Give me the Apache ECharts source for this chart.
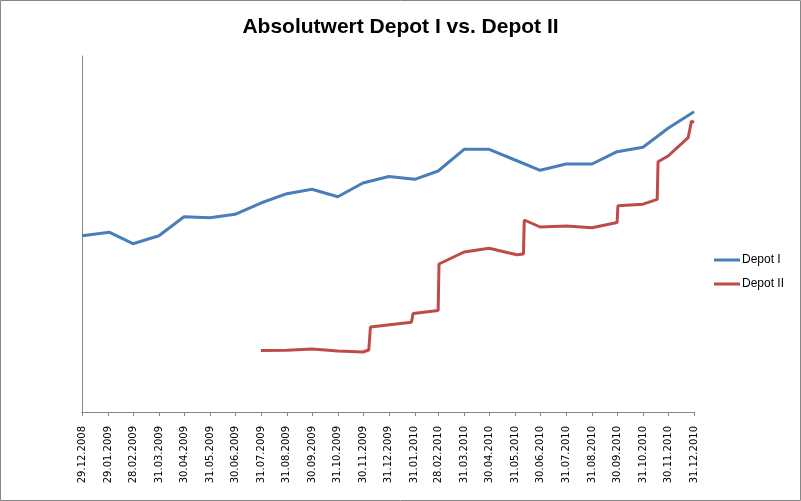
<!DOCTYPE html>
<html>
<head>
<meta charset="utf-8">
<script src="https://cdn.jsdelivr.net/npm/echarts@6/dist/echarts.min.js"></script>
<style>
html,body{margin:0;padding:0;background:#fff;}
#main{width:801px;height:501px;}
</style>
</head>
<body>
<div id="main"></div>
<script>
// Tick labels (dates on the x axis)
const tickLabels = ['29.12.2008','29.01.2009','28.02.2009','31.03.2009','30.04.2009','31.05.2009','30.06.2009','31.07.2009','31.08.2009','30.09.2009','31.10.2009','30.11.2009','31.12.2009','31.01.2010','28.02.2010','31.03.2010','30.04.2010','31.05.2010','30.06.2010','31.07.2010','31.08.2010','30.09.2010','31.10.2010','30.11.2010','31.12.2010'];

// Depot I
const depot1Dates = ['29.12.2008','31.01.2009','28.02.2009','31.03.2009','30.04.2009','31.05.2009','30.06.2009','31.07.2009','31.08.2009','30.09.2009','31.10.2009','30.11.2009','31.12.2009','31.01.2010','28.02.2010','31.03.2010','30.04.2010','31.05.2010','30.06.2010','31.07.2010','31.08.2010','30.09.2010','31.10.2010','30.11.2010','31.12.2010'];
const depot1Values = [176.3,179.7,168.3,176.3,195.3,194.3,197.7,209,218.3,222.7,215.3,229,235.5,232.7,241,262.7,262.7,252,241.7,248,248,260.3,264.7,283.7,300.3];

// Depot II
const depot2Dates = ['31.07.2009','31.08.2009','30.09.2009','31.10.2009','30.11.2009','07.12.2009','09.12.2009','27.01.2010','29.01.2010','28.02.2010','01.03.2010','31.03.2010','30.04.2010','02.06.2010','10.06.2010','11.06.2010','30.06.2010','31.07.2010','31.08.2010','30.09.2010','01.10.2010','31.10.2010','17.11.2010','18.11.2010','30.11.2010','24.12.2010','28.12.2010','31.12.2010'];
const depot2Values = [61.5,61.7,63,61,60,62,85,89.7,98.5,101.5,148,160,163.7,157.3,158,192,185,186,184.3,189.5,206.3,207.8,212.7,250.3,256,274.3,291,289.5];

function toDay(s){
  const p = s.split('.');
  return Date.UTC(+p[2], +p[1]-1, +p[0]) / 86400000;
}
const base = toDay(tickLabels[0]);
const dayOf = s => toDay(s) - base;
const tickDays = tickLabels.map(dayOf);
const labelByDay = {};
tickLabels.forEach((t,i)=>{ labelByDay[tickDays[i]] = t; });

const chart = echarts.init(document.getElementById('main'), null, {renderer:'canvas'});
chart.setOption({
  animation:false,
  backgroundColor:'#fff',
  title:{
    text:'Absolutwert Depot I vs. Depot II',
    left:'center', top:12,
    textStyle:{fontFamily:'Liberation Sans', fontWeight:'bold', fontSize:21, color:'#000'}
  },
  legend:{
    orient:'vertical', left:714, top:254, padding:0, itemWidth:26, itemHeight:3, itemGap:12,
    icon:'rect',
    textStyle:{fontFamily:'Liberation Sans', fontSize:12, color:'#000', padding:[0,0,0,-3]},
    data:['Depot I','Depot II']
  },
  graphic:[{type:'rect', shape:{x:0.5,y:0.5,width:800,height:500}, style:{fill:'none', stroke:'#868686', lineWidth:1}, silent:true}],
  grid:{left:82, right:107, top:56, bottom:89, containLabel:false},
  xAxis:{
    type:'value', min:tickDays[0], max:tickDays[tickDays.length-1],
    splitLine:{show:false},
    axisLine:{lineStyle:{color:'#868686', width:1}},
    axisTick:{show:true, length:4, customValues:tickDays, lineStyle:{color:'#868686'}},
    axisLabel:{customValues:tickDays, rotate:90, margin:14, fontFamily:'DejaVu Sans', fontSize:10, color:'#000',
      formatter:v=>labelByDay[v] || ''}
  },
  yAxis:{
    type:'value', min:0, max:356,
    splitLine:{show:false},
    axisLine:{show:true, lineStyle:{color:'#868686', width:1}},
    axisTick:{show:false},
    axisLabel:{show:false}
  },
  series:[
    {name:'Depot I', type:'line', symbol:'none', color:'#4A7EBB',
     lineStyle:{width:3, color:'#4A7EBB'},
     data:depot1Dates.map((d,i)=>[dayOf(d), depot1Values[i]])},
    {name:'Depot II', type:'line', symbol:'none', color:'#BE4B48',
     lineStyle:{width:3, color:'#BE4B48'},
     data:depot2Dates.map((d,i)=>[dayOf(d), depot2Values[i]])}
  ]
});
</script>
</body>
</html>
